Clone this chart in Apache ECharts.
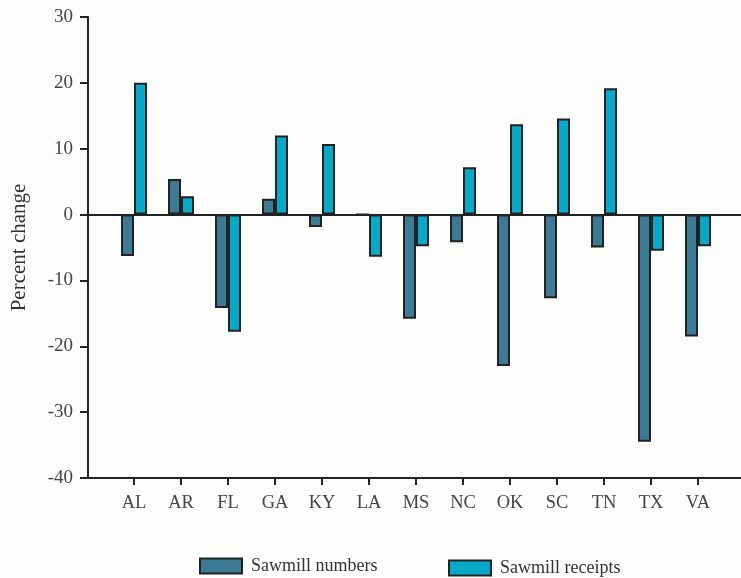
<!DOCTYPE html>
<html>
<head>
<meta charset="utf-8">
<script src="https://cdn.jsdelivr.net/npm/echarts@6/dist/echarts.min.js"></script>
<style>
html,body{margin:0;padding:0;background:#fdfdfc;}
#chart{width:741px;height:578px;}
</style>
</head>
<body>
<div id="chart"></div>
<script>
const categories = ['AL','AR','FL','GA','KY','LA','MS','NC','OK','SC','TN','TX','VA'];
const sawmillNumbers = [-6.3, 5.4, -14.2, 2.4, -1.9, 0, -15.8, -4.2, -23.0, -12.7, -5.0, -34.5, -18.5];
const sawmillReceipts = [20.0, 2.8, -17.8, 12.0, 10.7, -6.4, -4.8, 7.2, 13.7, 14.6, 19.2, -5.5, -4.8];
const yTicks = [-40, -30, -20, -10, 0, 10, 20, 30];

const serif = '"Liberation Serif", "Times New Roman", serif';
const chart = echarts.init(document.getElementById('chart'));
const yMin = yTicks[0], yMax = yTicks[yTicks.length - 1];

chart.setOption({
  backgroundColor: '#fdfdfc',
  animation: false,
  grid: [
    {left: 110.5, right: 19.5, top: 17, bottom: 100},
    {left: 88, right: 0, top: 17, bottom: 100}
  ],
  legend: [
    {data: ['Sawmill numbers'], left: 199, top: 557, padding: 0, itemWidth: 42, itemHeight: 15,
     icon: 'rect', textStyle: {fontFamily: serif, fontSize: 18, color: '#333', padding: [0,0,0,4]}},
    {data: ['Sawmill receipts'], left: 448, top: 559, padding: 0, itemWidth: 42, itemHeight: 15,
     icon: 'rect', textStyle: {fontFamily: serif, fontSize: 18, color: '#333', padding: [0,0,0,4]}}
  ],
  xAxis: [
    {type: 'category', gridIndex: 0, data: categories, position: 'bottom',
     axisLine: {show: false, onZero: false},
     axisTick: {show: true, alignWithLabel: true, length: 7, lineStyle: {color: '#222', width: 2}},
     axisLabel: {fontFamily: serif, fontSize: 18.5, color: '#444', margin: 16},
     splitLine: {show: false}},
    {type: 'value', gridIndex: 1, min: 0, max: 1, position: 'bottom',
     axisLine: {show: true, onZero: false, lineStyle: {color: '#222', width: 2}},
     axisTick: {show: false}, axisLabel: {show: false}, splitLine: {show: false}},
    {type: 'value', gridIndex: 1, min: 0, max: 1, position: 'bottom',
     axisLine: {show: true, onZero: true, lineStyle: {color: '#222', width: 2}},
     axisTick: {show: false}, axisLabel: {show: false}, splitLine: {show: false}}
  ],
  yAxis: [
    {type: 'value', gridIndex: 0, min: yMin, max: yMax, interval: 10, show: false},
    {type: 'value', gridIndex: 1, min: yMin, max: yMax, interval: 10,
     name: 'Percent change', nameLocation: 'middle', nameGap: 58, nameRotate: 90,
     nameTextStyle: {fontFamily: serif, fontSize: 21, color: '#333'},
     axisLine: {show: true, onZero: false, lineStyle: {color: '#222', width: 2}},
     axisTick: {show: true, length: 8, lineStyle: {color: '#222', width: 2}},
     axisLabel: {fontFamily: serif, fontSize: 19, color: '#444', margin: 15},
     splitLine: {show: false}}
  ],
  series: [
    {name: 'Sawmill numbers', type: 'bar', xAxisIndex: 0, yAxisIndex: 0,
     data: sawmillNumbers, barWidth: 13, barGap: '0%',
     itemStyle: {color: '#3b7b96', borderColor: '#222', borderWidth: 2}},
    {name: 'Sawmill receipts', type: 'bar', xAxisIndex: 0, yAxisIndex: 0,
     data: sawmillReceipts, barWidth: 13, barGap: '0%',
     itemStyle: {color: '#04aac8', borderColor: '#222', borderWidth: 2}}
  ]
});
</script>
</body>
</html>
